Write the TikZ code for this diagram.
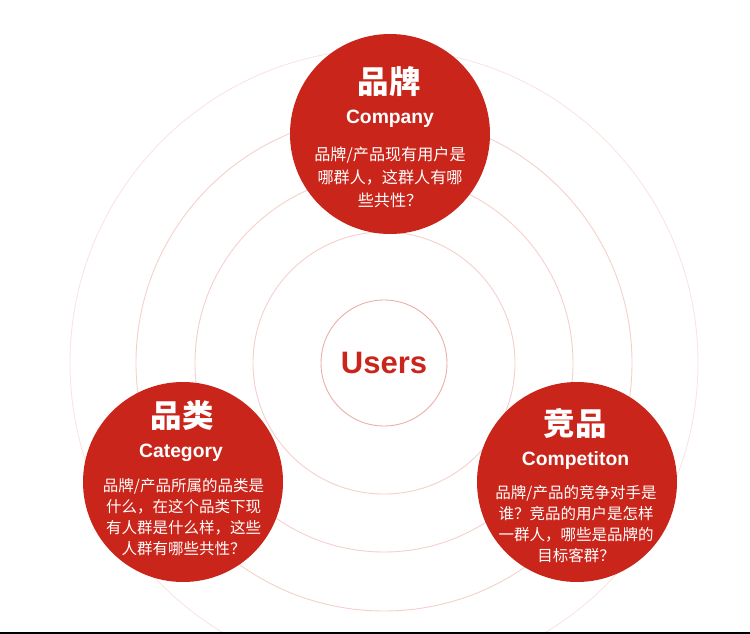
\documentclass[tikz,border=0pt]{standalone}
\usepackage{fontspec}
\setmainfont{Liberation Sans}
\newfontfamily\cjk{Noto Sans CJK SC}
\usepackage{tikz}
\usetikzlibrary{calc}
\definecolor{userred}{HTML}{C9251A}
\definecolor{ringpink}{HTML}{F4D0CC}
\definecolor{ringpale}{HTML}{F9E4E2}

\begin{document}
\begin{tikzpicture}[
  x=1pt, y=-1pt,
  ring/.style={draw=ringpink, line width=0.9pt},
  bubble/.style={circle, fill=userred, minimum size=200pt, inner sep=0pt},
  title/.style={anchor=base, text=white, font=\cjk\bfseries\fontsize{31.5}{32}\selectfont},
  subtitle/.style={anchor=base, text=white, font=\bfseries\fontsize{19.3}{20}\selectfont},
  question/.style={anchor=base, text=white, align=center, inner sep=0pt,
    font=\cjk\fontsize{15.5}{20.7}\selectfont}
]
  \useasboundingbox (0,0) rectangle (750,634);
  \clip (0,0) rectangle (750,634);

  % Rings round the users
  \coordinate (core) at (384,363);
  \foreach \r in {131,189,248}
    \draw[ring] (core) circle (\r pt);
  \draw[ring, draw=ringpale] (core) circle (314pt);
  \node[circle, draw=ringpink!80!userred, line width=0.9pt, minimum size=126pt,
        text=userred, font=\bfseries\fontsize{31}{31}\selectfont] (users) at (core) {Users};

  % Brand (base = last line)
  \node[bubble] (brand) at (390,134) {};
  \node[title] (brandtitle) at (389,93) {品牌};
  \node[subtitle] (brandsub) at (390,123) {Company};
  \node[question, font=\cjk\fontsize{16.1}{23}\selectfont] (brandtext) at (390,206)
    {品牌/产品现有用户是\\哪群人，这群人有哪\\些共性？};

  % Category
  \node[bubble] (category) at (183,482) {};
  \node[title] (categorytitle) at (182,427) {品类};
  \node[subtitle] (categorysub) at (181,457) {Category};
  \node[question] (categorytext) at (183.5,554)
    {品牌/产品所属的品类是\\什么，在这个品类下现\\有人群是什么样，这些\\人群有哪些共性？};

  % Competition
  \node[bubble] (rival) at (577,482) {};
  \node[title] (rivaltitle) at (575,435) {竞品};
  \node[subtitle] (rivalsub) at (575.5,465) {Competiton};
  \node[question] (rivaltext) at (576,561)
    {品牌/产品的竞争对手是\\谁？竞品的用户是怎样\\一群人，哪些是品牌的\\目标客群？};

  % bottom rule
  \draw[line width=1.8pt] (0,633.1) -- (750,633.1);
\end{tikzpicture}
\end{document}
